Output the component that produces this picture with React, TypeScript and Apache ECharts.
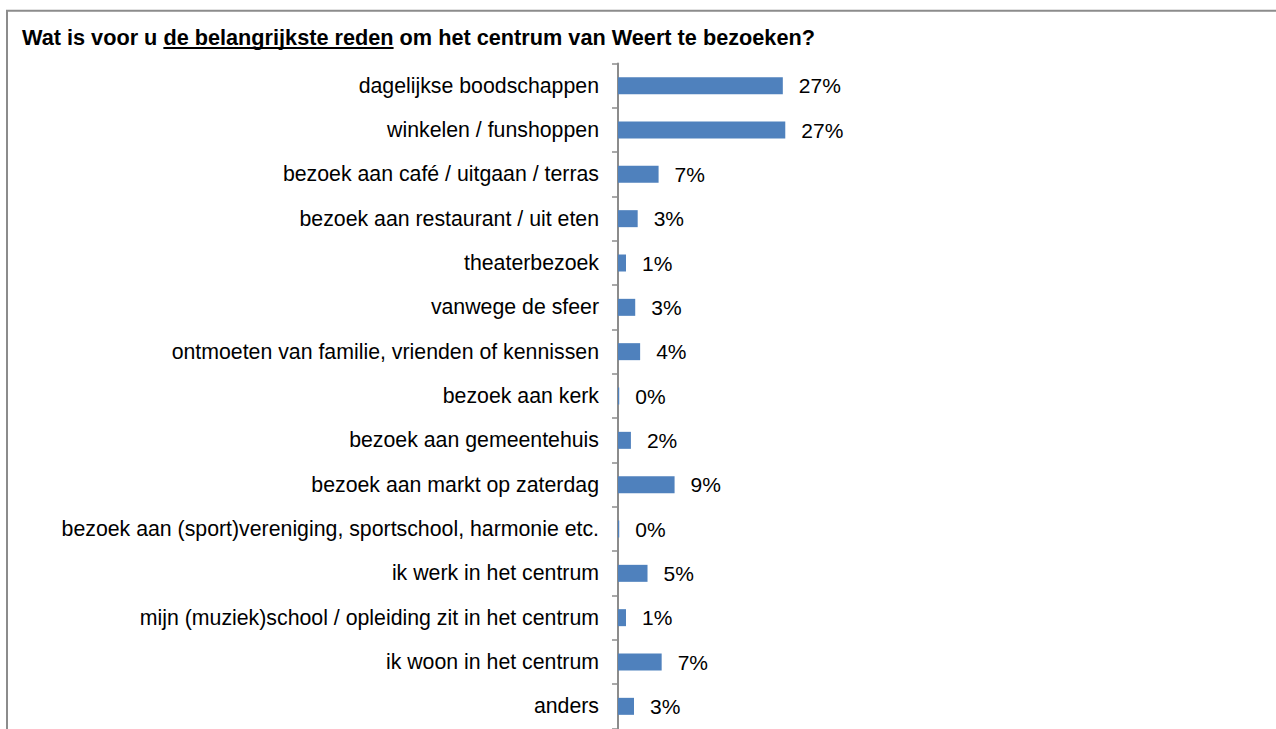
import React, { useEffect, useRef } from "react";
import * as echarts from "echarts";

const categories = [
  "dagelijkse boodschappen",
  "winkelen / funshoppen",
  "bezoek aan café / uitgaan / terras",
  "bezoek aan restaurant / uit eten",
  "theaterbezoek",
  "vanwege de sfeer",
  "ontmoeten van familie, vrienden of kennissen",
  "bezoek aan kerk",
  "bezoek aan gemeentehuis",
  "bezoek aan markt op zaterdag",
  "bezoek aan (sport)vereniging, sportschool, harmonie etc.",
  "ik werk in het centrum",
  "mijn (muziek)school / opleiding zit in het centrum",
  "ik woon in het centrum",
  "anders",
];

const values = [26.8, 27.2, 6.6, 3.2, 1.3, 2.8, 3.6, 0.2, 2.1, 9.2, 0.2, 4.8, 1.3, 7.1, 2.6];

const titlePre = "Wat is voor u ";
const titleUnderlined = "de belangrijkste reden";
const titlePost = " om het centrum van Weert te bezoeken?";

const FONT = "'Liberation Sans', Arial, Helvetica, sans-serif";

function measure(text: string, font: string): number {
  const c = document.createElement("canvas");
  const ctx = c.getContext("2d");
  if (!ctx) return text.length * 10;
  ctx.font = font;
  return ctx.measureText(text).width;
}

export default function App() {
  const ref = useRef<HTMLDivElement>(null);

  useEffect(() => {
    if (!ref.current) return;
    const chart = echarts.init(ref.current, undefined, { renderer: "svg" });
    const titleFont = `bold 21.7px ${FONT}`;
    const titleX = 22;
    const w1 = measure(titlePre, titleFont);
    const w2 = measure(titleUnderlined, titleFont);

    chart.setOption({
      animation: false,
      backgroundColor: "#ffffff",
      graphic: [
        {
          type: "rect",
          z: -1,
          shape: { x: 7, y: 10.7, width: 1400, height: 900 },
          style: { fill: "none", stroke: "#8c8c8c", lineWidth: 2 },
        },
        {
          type: "text",
          x: titleX,
          y: 37.5,
          style: {
            text: titlePre + titleUnderlined + titlePost,
            font: titleFont,
            fill: "#000000",
            textVerticalAlign: "middle",
            textAlign: "left",
          },
        },
        {
          type: "line",
          shape: { x1: titleX + w1, y1: 48, x2: titleX + w1 + w2, y2: 48 },
          style: { stroke: "#000000", lineWidth: 2 },
        },
      ],
      grid: {
        left: 618,
        top: 63.5,
        width: 615,
        height: 665,
        containLabel: false,
        outerBoundsMode: "none",
      },
      xAxis: {
        type: "value",
        min: 0,
        max: 100,
        show: false,
      },
      yAxis: {
        type: "category",
        data: categories,
        inverse: true,
        axisLine: { show: true, lineStyle: { color: "#8c8c8c", width: 2 } },
        axisTick: { show: true, length: 6, lineStyle: { color: "#8c8c8c", width: 1.5 } },
        axisLabel: {
          margin: 19,
          fontSize: 21.3,
          fontFamily: FONT,
          color: "#000000",
        },
        splitLine: { show: false },
      },
      series: [
        {
          type: "bar",
          data: values,
          barWidth: 17,
          itemStyle: { color: "#4F81BD" },
          label: {
            show: true,
            position: "right",
            distance: 16,
            fontSize: 21,
            fontFamily: FONT,
            color: "#000000",
            formatter: (p: any) => `${Math.round(p.value)}%`,
          },
        },
      ],
    });

    return () => {
      chart.dispose();
    };
  }, []);

  return (
    <div
      ref={ref}
      style={{ position: "fixed", left: 0, top: 0, width: 1276, height: 729 }}
    />
  );
}
